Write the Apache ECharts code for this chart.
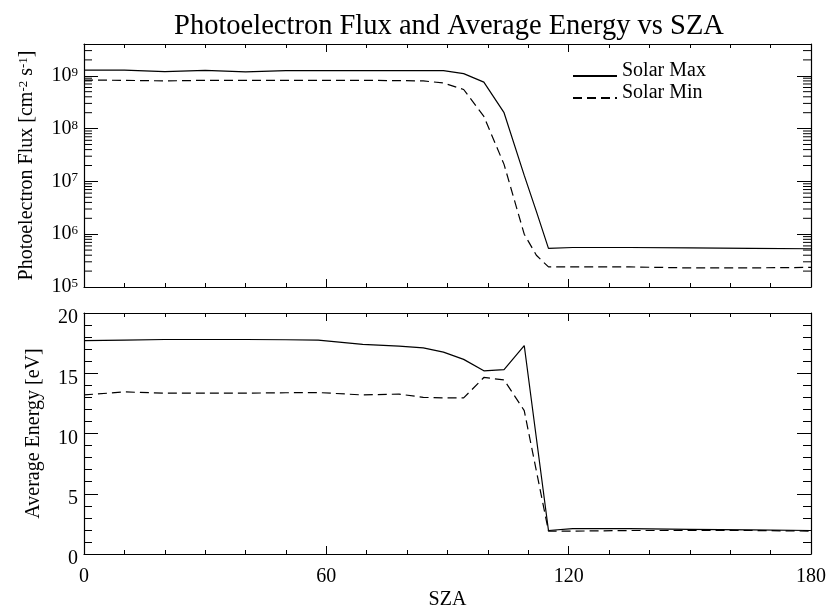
<!DOCTYPE html>
<html>
<head>
<meta charset="utf-8">
<script src="https://cdn.jsdelivr.net/npm/echarts@6/dist/echarts.min.js"></script>
<style>
  html, body { margin: 0; padding: 0; background: #fff; }
  #chart { width: 834px; height: 611px; }
</style>
</head>
<body>
<div id="chart"></div>
<script>
// Solar zenith angle grid (degrees) for the flux panel
var szaFlux = [0, 10, 20, 30, 40, 50, 58, 69, 78, 84, 89, 94, 99, 104, 109, 112, 115, 121, 135, 150, 165, 180];
// Photoelectron flux [cm^-2 s^-1]
var fluxMax = [1.28e9, 1.28e9, 1.2e9, 1.27e9, 1.19e9, 1.25e9, 1.25e9, 1.25e9, 1.25e9, 1.25e9, 1.25e9, 1.1e9, 7.6e8, 2.0e8, 1.3e7, 2.7e6, 5.4e5, 5.6e5, 5.6e5, 5.5e5, 5.4e5, 5.3e5];
var fluxMin = [8.3e8, 8.2e8, 8.0e8, 8.2e8, 8.2e8, 8.2e8, 8.2e8, 8.2e8, 8.1e8, 8.0e8, 7.3e8, 5.5e8, 1.7e8, 2.1e7, 1.0e6, 4.0e5, 2.4e5, 2.4e5, 2.4e5, 2.3e5, 2.3e5, 2.35e5];

// Solar zenith angle grid (degrees) for the energy panel
var szaEnergy = [0, 10, 20, 30, 40, 50, 58, 69, 78, 84, 89, 94, 99, 104, 109, 115, 121, 135, 150, 165, 180];
// Average photoelectron energy [eV]
var energyMax = [17.7, 17.75, 17.8, 17.8, 17.8, 17.78, 17.75, 17.4, 17.25, 17.1, 16.75, 16.15, 15.2, 15.3, 17.3, 1.95, 2.1, 2.1, 2.05, 2.0, 1.95];
var energyMin = [13.2, 13.45, 13.35, 13.35, 13.35, 13.38, 13.4, 13.2, 13.27, 13.0, 12.95, 12.95, 14.65, 14.45, 11.9, 1.9, 1.9, 1.95, 1.95, 1.95, 1.9];

// Axis settings
var szaTicks = [0, 60, 120, 180];
var fluxRange = [1e5, 4e9];
var energyRange = [0, 20];
var fluxMinorTicks = [];
for (var e = 5; e <= 9; e++) {
  for (var m = 2; m <= 9; m++) {
    var v = m * Math.pow(10, e);
    if (v < fluxRange[1]) fluxMinorTicks.push(v);
  }
}

var FONT = '"Liberation Serif", "DejaVu Serif", serif';

function pairs(xs, ys) {
  return xs.map(function (x, i) { return [x, ys[i]]; });
}

function xAxisCfg(gridIndex, position, showLabels) {
  return {
    type: 'value', gridIndex: gridIndex, position: position,
    min: szaTicks[0], max: szaTicks[szaTicks.length - 1], interval: 60,
    axisLine: { show: true, onZero: false, lineStyle: { color: '#000', width: 1.2 } },
    axisTick: { show: true, inside: true, length: 8, lineStyle: { color: '#000', width: 1 } },
    minorTick: { show: true, splitNumber: 6, length: 4, lineStyle: { color: '#000', width: 1 } },
    splitLine: { show: false },
    axisLabel: { show: showLabels, margin: 13, color: '#000', fontFamily: FONT, fontSize: 20 },
    name: showLabels ? 'SZA' : '',
    nameLocation: 'middle', nameGap: 36,
    nameTextStyle: { color: '#000', fontFamily: FONT, fontSize: 20 }
  };
}

var supRich = {
  b: { fontFamily: FONT, fontSize: 20, color: '#000' },
  s: { fontFamily: FONT, fontSize: 13, color: '#000', verticalAlign: 'top', lineHeight: 12 }
};

function fluxAxisCfg(position, showLabels) {
  return {
    type: 'log', logBase: 10, gridIndex: 0, position: position,
    min: fluxRange[0], max: fluxRange[1],
    axisLine: { show: true, onZero: false, lineStyle: { color: '#000', width: 1.2 } },
    axisTick: { show: true, inside: true, length: 14, lineStyle: { color: '#000', width: 1 } },
    minorTick: { show: false },
    splitLine: { show: false },
    axisLabel: {
      show: showLabels, margin: 6, showMaxLabel: false,
      formatter: function (val) {
        var ex = Math.log10(val);
        if (Math.abs(ex - Math.round(ex)) > 1e-6) return '';
        return '{b|10}{s|' + Math.round(ex) + '}';
      },
      rich: supRich
    },
    name: showLabels ? 'Photoelectron Flux [cm{s|-2} s{s|-1}]' : '',
    nameLocation: 'middle', nameGap: 47, nameRotate: 90,
    nameTextStyle: { color: '#000', fontFamily: FONT, fontSize: 20, rich: {
      s: { fontFamily: FONT, fontSize: 13, color: '#000', verticalAlign: 'top', lineHeight: 12 }
    } }
  };
}

function energyAxisCfg(position, showLabels) {
  return {
    type: 'value', gridIndex: 1, position: position,
    min: energyRange[0], max: energyRange[1], interval: 5,
    axisLine: { show: true, onZero: false, lineStyle: { color: '#000', width: 1.2 } },
    axisTick: { show: true, inside: true, length: 14, lineStyle: { color: '#000', width: 1 } },
    minorTick: { show: true, splitNumber: 5, length: 8, lineStyle: { color: '#000', width: 1 } },
    splitLine: { show: false },
    axisLabel: {
      show: showLabels, margin: 6,
      formatter: function (val) { return '{n|' + val + '}'; },
      rich: { n: { color: '#000', fontFamily: FONT, fontSize: 20, padding: [10, 0, 0, 0] } }
    },
    name: showLabels ? 'Average Energy [eV]' : '',
    nameLocation: 'middle', nameGap: 40, nameRotate: 90,
    nameTextStyle: { color: '#000', fontFamily: FONT, fontSize: 20 }
  };
}

var solid = { color: '#000', width: 1.2, type: 'solid' };
var dashed = { color: '#000', width: 1.2, type: [9, 5] };

var chart = echarts.init(document.getElementById('chart'), null, { renderer: 'canvas' });
chart.setOption({
  animation: false,
  backgroundColor: '#fff',
  title: {
    text: 'Photoelectron Flux and Average Energy vs SZA',
    left: 444, top: 7, textAlign: 'center',
    textStyle: { color: '#000', fontFamily: FONT, fontSize: 28.5, fontWeight: 'normal' }
  },
  legend: {
    orient: 'vertical', left: 567, top: 56,
    itemWidth: 44, itemHeight: 14, itemGap: -8,
    data: ['Solar Max', 'Solar Min'],
    itemStyle: { opacity: 0 },
    formatter: function (name) { return '{t|' + name + '}'; },
    textStyle: {
      color: '#000', fontFamily: FONT, fontSize: 20,
      rich: { t: { color: '#000', fontFamily: FONT, fontSize: 20, lineHeight: 14, padding: [0, 0, 10, 0] } }
    }
  },
  grid: [
    { left: 84, right: 23, top: 44, height: 243 },
    { left: 84, right: 23, top: 313, height: 243 }
  ],
  xAxis: [
    xAxisCfg(0, 'bottom', false),
    xAxisCfg(0, 'top', false),
    xAxisCfg(1, 'bottom', true),
    xAxisCfg(1, 'top', false)
  ],
  yAxis: [
    fluxAxisCfg('left', true),
    fluxAxisCfg('right', false),
    energyAxisCfg('left', true),
    energyAxisCfg('right', false)
  ],
  series: [
    {
      name: 'Solar Max', type: 'line', xAxisIndex: 0, yAxisIndex: 0,
      symbol: 'none', lineStyle: solid, itemStyle: { color: '#000' },
      data: pairs(szaFlux, fluxMax)
    },
    {
      name: 'Solar Min', type: 'line', xAxisIndex: 0, yAxisIndex: 0,
      symbol: 'none', lineStyle: dashed, itemStyle: { color: '#000' },
      data: pairs(szaFlux, fluxMin)
    },
    {
      name: 'Solar Max', type: 'line', xAxisIndex: 2, yAxisIndex: 2,
      symbol: 'none', lineStyle: solid, itemStyle: { color: '#000' },
      data: pairs(szaEnergy, energyMax)
    },
    {
      name: 'Solar Min', type: 'line', xAxisIndex: 2, yAxisIndex: 2,
      symbol: 'none', lineStyle: dashed, itemStyle: { color: '#000' },
      data: pairs(szaEnergy, energyMin)
    },
    {
      // minor log ticks (2..9 per decade) on both sides of the flux panel
      type: 'custom', xAxisIndex: 0, yAxisIndex: 0, silent: true, z: 5,
      data: fluxMinorTicks.map(function (v) { return [szaTicks[0], v]; }),
      renderItem: function (params, api) {
        var v = api.value(1);
        var pl = api.coord([szaTicks[0], v]);
        var pr = api.coord([szaTicks[szaTicks.length - 1], v]);
        var st = { stroke: '#000', lineWidth: 1 };
        return {
          type: 'group',
          children: [
            { type: 'line', shape: { x1: pl[0], y1: pl[1], x2: pl[0] + 8, y2: pl[1] }, style: st },
            { type: 'line', shape: { x1: pr[0] - 8, y1: pr[1], x2: pr[0], y2: pr[1] }, style: st }
          ]
        };
      }
    }
  ]
});
</script>
</body>
</html>
